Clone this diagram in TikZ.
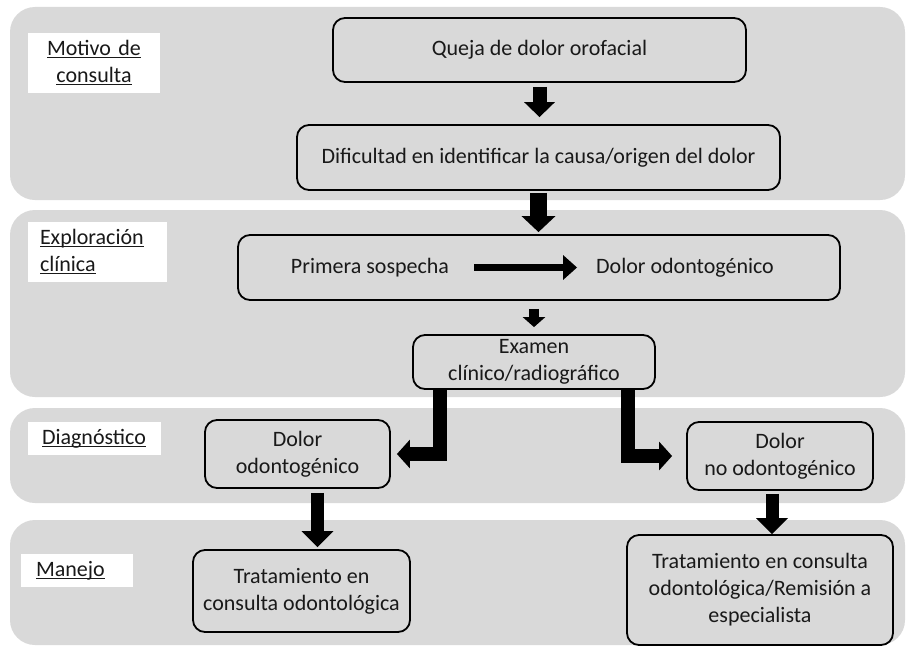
\documentclass[tikz,border=0pt]{standalone}
\usepackage{fontspec}
\setmainfont{Carlito}
\usetikzlibrary{arrows.meta,positioning,calc}

\newcommand{\boxfont}{\fontsize{11}{13.5}\selectfont}
\newsavebox\undlbox
\newcommand{\undl}[1]{\leavevmode\sbox\undlbox{#1}\rlap{\rule[-1.3pt]{\wd\undlbox}{0.55pt}}\usebox\undlbox}

\begin{document}
\begin{tikzpicture}[x=0.5pt, y=-0.5pt,
    panel/.style={fill=black!15, rounded corners=12.5pt},
    lbl/.style={rectangle, fill=white, inner ysep=0pt, minimum height=16.5pt,
                font=\boxfont, text=black!90},
    box/.style={rectangle, draw=black, line width=0.9pt, rounded corners=6pt,
                fill=black!15, align=center, inner sep=2pt,
                font=\boxfont, text=black!90},
    txt/.style={font=\boxfont, text=black!90},
    arrbig/.style={line width=8.5pt, -{Triangle[width=16.5pt,length=8pt]}},
    arrmid/.style={line width=7pt, -{Triangle[width=15pt,length=7.5pt]}},
    arrsml/.style={line width=5pt, -{Triangle[width=11pt,length=5pt]}},
    arrin/.style={line width=3.5pt, -{Triangle[width=12pt,length=7pt]}},
    arrL/.style={line width=7pt, line join=miter, -{Triangle[width=14pt,length=6.5pt]}},
    arrdn/.style={line width=6.5pt, -{Triangle[width=15.5pt,length=8pt]}},
  ]

  \fill[white] (0,0) rectangle (908,647);
  \useasboundingbox (0,0) rectangle (908,647);

  % ===== Bands =====
  \fill[panel] (10,7) rectangle (905,200);
  \fill[panel] (10,210) rectangle (905,397);
  \fill[panel] (10,408) rectangle (905,503);
  \fill[panel] (10,520) rectangle (905,645);

  % ===== Band labels =====
  \node[lbl, minimum height=30pt, text width=54pt, align=center, inner xsep=6pt] (lmot) at (94,63)
       {\undl{Motivo de}\\\undl{consulta}};
  \node[lbl, minimum height=30pt, text width=57.5pt, align=left, inner xsep=6pt] (lexp) at (97.5,252)
       {\undl{Exploración}\\\undl{clínica}};
  \node[lbl, text width=52.5pt, align=left, inner xsep=7pt] (ldia) at (94.5,438.5)
       {\undl{Diagnóstico}};
  \node[lbl, text width=41pt, align=left, inner xsep=7.5pt] (lman) at (77,570.5)
       {\undl{Manejo}};

  % ===== Motivo de consulta =====
  \node[box, minimum width=206.5pt, minimum height=32pt] (queja) at (539.5,50) {Queja de dolor orofacial};
  \node[box, minimum width=241.5pt, minimum height=32.5pt] (dific) at (538.5,157.5)
       {Dificultad en identificar la causa/origen del dolor};

  % ===== Exploracion clinica =====
  \node[box, minimum width=301pt, minimum height=32.5pt] (prim) at (539,267.5) {};
  \node[txt] (psos) at (370,267.5) {Primera sospecha};
  \node[txt] (podo) at (685,267.5) {Dolor odontogénico};
  \node[box, minimum width=121pt, minimum height=27pt] (exam) at (534,362)
       {Examen\\clínico/radiográfico};

  % ===== Diagnostico =====
  \node[box, minimum width=92.5pt, minimum height=34pt] (dolsi) at (297.5,454) {Dolor\\odontogénico};
  \node[box, minimum width=93pt, minimum height=34pt] (dolno) at (780,456) {Dolor\\no odontogénico};

  % ===== Manejo =====
  \node[box, minimum width=108.5pt, minimum height=41pt] (trsi) at (301.5,591)
       {Tratamiento en\\consulta odontológica};
  \node[box, minimum width=133pt, minimum height=55pt] (trno) at (760,590)
       {Tratamiento en consulta\\odontológica/Remisión a\\especialista};

  % ===== Arrows =====
  \draw[arrmid, shorten <=2pt, shorten >=3.5pt] (queja.south) -- (queja.south |- dific.north);
  \draw[arrbig, shorten <=1pt, shorten >=1pt] (dific.south) -- (dific.south |- prim.north);
  \draw[arrin, shorten <=9pt, shorten >=6pt] (psos) -- (podo);
  \draw[arrsml, shorten <=4pt, shorten >=3.5pt] (prim.south -| exam.north) -- (exam.north);
  \draw[arrL, shorten >=3pt] ([xshift=-47pt]exam.south) |- (dolsi);
  \draw[arrL, shorten >=7pt] ([xshift=47pt]exam.south) |- (dolno);
  \draw[arrdn, shorten <=2pt, shorten >=1pt] ([xshift=10pt]dolsi.south) -- ([xshift=10pt]dolsi.south |- trsi.north);
  \draw[arrdn, shorten <=1.5pt] ([xshift=-4pt]dolno.south) -- ([xshift=-4pt]dolno.south |- trno.north);

\end{tikzpicture}
\end{document}
